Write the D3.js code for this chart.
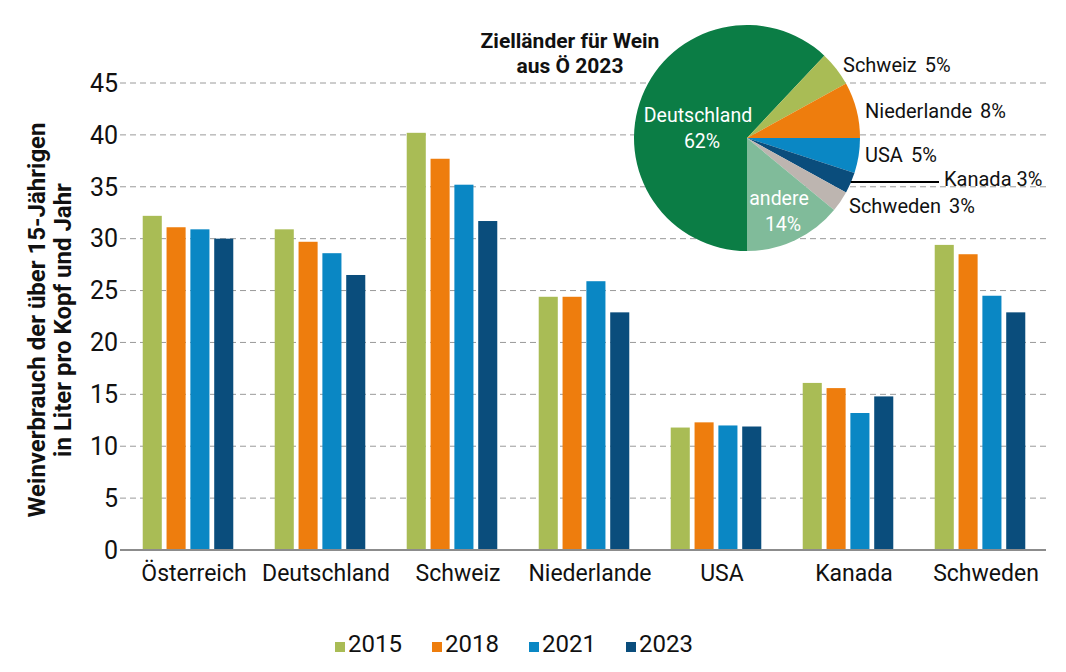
<!DOCTYPE html>
<html>
<head>
<meta charset="utf-8">
<script src="https://cdn.jsdelivr.net/npm/d3@7"></script>
<style>
  html, body { margin: 0; padding: 0; background: #fff; }
  svg { display: block; }
  text { font-family: Roboto, "Open Sans", sans-serif; fill: #111; }
</style>
</head>
<body>
<svg id="chart" width="1066" height="672"></svg>
<script>
// ---- data ----
const categories = ["Österreich", "Deutschland", "Schweiz", "Niederlande", "USA", "Kanada", "Schweden"];
const years = ["2015", "2018", "2021", "2023"];
const v2015 = [32.2, 30.9, 40.2, 24.4, 11.8, 16.1, 29.4];
const v2018 = [31.1, 29.7, 37.7, 24.4, 12.3, 15.6, 28.5];
const v2021 = [30.9, 28.6, 35.2, 25.9, 12.0, 13.2, 24.5];
const v2023 = [30.0, 26.5, 31.7, 22.9, 11.9, 14.8, 22.9];
const yTicks = [0, 5, 10, 15, 20, 25, 30, 35, 40, 45];
const yTitleLines = ["Weinverbrauch der über 15-Jährigen", "in Liter pro Kopf und Jahr"];
const pieTitleLines = ["Zielländer für Wein", "aus Ö 2023"];
const pieNames = ["Deutschland", "Schweiz", "Niederlande", "USA", "Kanada", "Schweden", "andere"];
const pieValues = [62, 5, 8, 5, 3, 3, 14];

// ---- styles ----
const yearColors = ["#a9bc55", "#ee7d0d", "#0a87c4", "#0a4d7c"];
const pieColors = ["#0b7d45", "#a9bc55", "#ee7d0d", "#0a87c4", "#0a4d7c", "#bdb5b0", "#80bb9a"];

const svg = d3.select("#chart");
const series = [v2015, v2018, v2021, v2023];

const x0 = d3.scaleBand().domain(categories).range([122, 1046]).paddingInner(0.314).paddingOuter(0.157);
const x1 = d3.scaleBand().domain(years).range([0, x0.bandwidth()]).paddingInner(0.2);
const y = d3.scaleLinear().domain([0, 45]).range([550, 83]);

// gridlines
svg.append("g").selectAll("line").data(yTicks.filter(d => d > 0)).join("line")
  .attr("x1", 120).attr("x2", 1046)
  .attr("y1", d => y(d)).attr("y2", d => y(d))
  .attr("stroke", "#9a9a9a").attr("stroke-width", 1).attr("stroke-dasharray", "6,4");

// tick labels
svg.append("g").selectAll("text").data(yTicks).join("text")
  .attr("x", 118).attr("y", d => y(d)).attr("dy", "0.35em")
  .attr("text-anchor", "end").style("font-size", "25px")
  .text(d => d);

// bars
const groups = svg.append("g").selectAll("g").data(categories).join("g")
  .attr("transform", d => `translate(${x0(d)},0)`);
groups.selectAll("rect").data((c, ci) => years.map((yr, yi) => ({yr, yi, v: series[yi][ci]}))).join("rect")
  .attr("x", d => x1(d.yr)).attr("width", x1.bandwidth())
  .attr("y", d => y(d.v)).attr("height", d => y(0) - y(d.v))
  .attr("fill", d => yearColors[d.yi]);

// zero line
svg.append("line").attr("x1", 120).attr("x2", 1046).attr("y1", y(0)).attr("y2", y(0))
  .attr("stroke", "#8c8c8c").attr("stroke-width", 2);

// category labels
svg.append("g").selectAll("text").data(categories).join("text")
  .attr("x", d => x0(d) + x0.bandwidth() / 2 + 6).attr("y", 581)
  .attr("text-anchor", "middle").style("font-size", "23px")
  .text(d => d);

// y title
const yt = svg.append("text").attr("transform", "translate(0,320) rotate(-90)")
  .attr("text-anchor", "middle").style("font-size", "24px").style("font-weight", "bold");
yt.selectAll("tspan").data(yTitleLines).join("tspan")
  .attr("x", 0).attr("y", (d, i) => 45 + i * 26).text(d => d);

// legend
const leg = svg.append("g").selectAll("g").data(years).join("g")
  .attr("transform", (d, i) => `translate(${335 + i * 97},652)`);
leg.append("rect").attr("x", 0).attr("y", -10).attr("width", 10).attr("height", 10)
  .attr("fill", (d, i) => yearColors[i]);
leg.append("text").attr("x", 13).attr("y", 0).style("font-size", "24px").text(d => d);

// pie
const cx = 747, cy = 138, R = 113;
const pie = d3.pie().sort(null).startAngle(Math.PI).endAngle(3 * Math.PI);
const arcs = pie(pieValues);
const arc = d3.arc().innerRadius(0).outerRadius(R);
const pg = svg.append("g").attr("transform", `translate(${cx},${cy})`);
pg.selectAll("path").data(arcs).join("path")
  .attr("d", arc).attr("fill", (d, i) => pieColors[i]);

// pie title
svg.append("g").selectAll("text").data(pieTitleLines).join("text")
  .attr("x", 570).attr("y", (d, i) => 48 + i * 25)
  .attr("text-anchor", "middle").style("font-size", "21px").style("font-weight", "bold")
  .text(d => d);

// inside labels
function inner(name, pct, xc, yc, col) {
  const t = svg.append("text").attr("text-anchor", "middle").style("font-size", "19.5px").style("fill", col);
  t.append("tspan").attr("x", xc).attr("y", yc).text(name);
  t.append("tspan").attr("x", xc + 4).attr("y", yc + 26).text(pct + "%");
}
inner(pieNames[0], pieValues[0], 698, 122, "#fff");
inner(pieNames[6], pieValues[6], 779, 205, "#fff");

// outside labels
const outside = [
  {i: 1, x: 843, y: 72},
  {i: 2, x: 865, y: 118},
  {i: 3, x: 865, y: 162},
  {i: 4, x: 944, y: 186},
  {i: 5, x: 849, y: 213}
];
outside.forEach(o => {
  const t = svg.append("text").attr("x", o.x).attr("y", o.y).style("font-size", "20px");
  t.append("tspan").text(pieNames[o.i]);
  t.append("tspan").attr("dx", o.i === 4 ? 5 : 8).text(pieValues[o.i] + "%");
});
// leader line for Kanada
const ka = arcs[4];
const mid = (ka.startAngle + ka.endAngle) / 2;
const ex = cx + R * Math.sin(mid);
svg.append("line").attr("x1", ex).attr("y1", 182).attr("x2", 939).attr("y2", 182)
  .attr("stroke", "#000").attr("stroke-width", 2);
</script>
</body>
</html>
